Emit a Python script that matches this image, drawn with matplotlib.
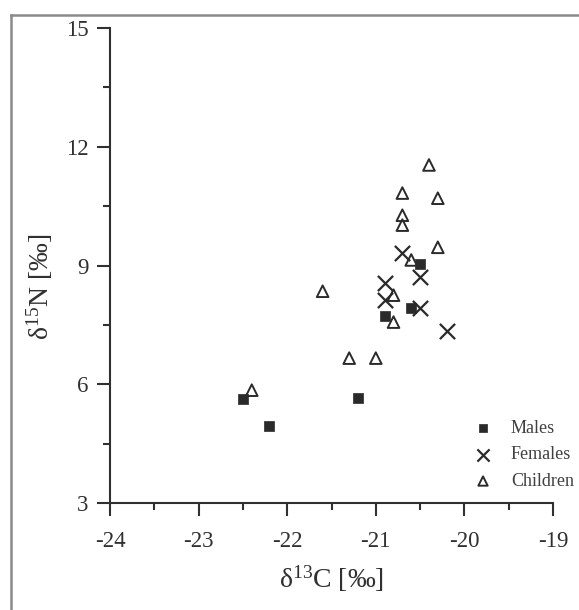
import matplotlib
matplotlib.use("Agg")
import matplotlib.pyplot as plt
from matplotlib.ticker import MultipleLocator
from matplotlib.lines import Line2D

plt.rcParams['font.family'] = ['Liberation Serif', 'DejaVu Serif']
plt.rcParams['mathtext.fontset'] = 'custom'
plt.rcParams['mathtext.rm'] = 'Liberation Serif'
plt.rcParams['mathtext.it'] = 'Liberation Serif:italic'

males_c = [-22.5, -22.2, -21.2, -20.9, -20.6, -20.5]
males_n = [5.63, 4.94, 5.65, 7.72, 7.92, 9.04]

females_c = [-20.7, -20.5, -20.9, -20.9, -20.5, -20.2]
females_n = [9.31, 8.71, 8.56, 8.13, 7.92, 7.34]

children_c = [-20.4, -20.7, -20.3, -20.7, -20.7, -20.3, -20.6, -20.8, -20.8,
              -21.6, -21.3, -21.0, -22.4]
children_n = [11.54, 10.83, 10.70, 10.27, 10.02, 9.46, 9.14, 8.25, 7.57,
              8.35, 6.66, 6.66, 5.85]

group_labels = ['Males', 'Females', 'Children']
xticks = [-24, -23, -22, -21, -20, -19]
yticks = [3, 6, 9, 12, 15]

ink = '#303030'

fig = plt.figure(figsize=(5.79, 6.10), dpi=100)
fig.patch.set_facecolor('white')

# outer frame (left and top edges visible)
fig.add_artist(Line2D([11/579, 11/579], [-0.1, 1 - 15/610], transform=fig.transFigure,
                      color='#8a8a8a', lw=1.8))
fig.add_artist(Line2D([11/579, 1.1], [1 - 15/610, 1 - 15/610], transform=fig.transFigure,
                      color='#8a8a8a', lw=1.8))

ax = fig.add_axes([110/579, 1 - 503/610, (553 - 110)/579, (503 - 28)/610])
ax.set_facecolor('white')

ax.scatter(males_c, males_n, marker='s', s=55, color='#2a2a2a', edgecolors='#2a2a2a',
           linewidths=0.5, label=group_labels[0], zorder=3)
ax.scatter(females_c, females_n, marker='x', s=120, color='#2a2a2a', linewidths=1.6,
           label=group_labels[1], zorder=3)
ax.scatter(children_c, children_n, marker='^', s=70, facecolors='none',
           edgecolors='#2a2a2a', linewidths=1.4, label=group_labels[2], zorder=3)

ax.set_xlim(-24, -19)
ax.set_ylim(3, 15)
ax.set_xticks(xticks)
ax.set_yticks(yticks)
ax.set_xticklabels([str(t) for t in xticks])
ax.set_yticklabels([str(t) for t in yticks])
ax.xaxis.set_minor_locator(MultipleLocator(0.5))
ax.yaxis.set_minor_locator(MultipleLocator(1.5))

for s in ['top', 'right']:
    ax.spines[s].set_visible(False)
for s in ['left', 'bottom']:
    ax.spines[s].set_color(ink)
    ax.spines[s].set_linewidth(1.5)

ax.tick_params(which='major', direction='out', length=9.5, width=1.5, color=ink,
               labelsize=16.5, labelcolor=ink)
ax.tick_params(axis='x', which='major', pad=11)
ax.tick_params(axis='y', which='major', pad=6)
ax.tick_params(which='minor', direction='out', length=5, width=1.5, color=ink)

ax.set_xlabel(r'$\mathrm{δ}^{13}$C [‰]', fontsize=20, color=ink, labelpad=8)
ax.set_ylabel(r'$\mathrm{δ}^{15}$N [‰]', fontsize=20, color=ink, labelpad=8)
ax.yaxis.label.set_y(0.455)

leg = fig.legend(*ax.get_legend_handles_labels(), loc='upper left',
                 bbox_to_anchor=(474/579, 1 - 420/610), bbox_transform=fig.transFigure,
                 frameon=False, fontsize=13, handletextpad=1.05, labelspacing=0.52,
                 handlelength=1.0, borderpad=0, borderaxespad=0,
                 markerscale=0.8, labelcolor='#404040')

fig.savefig('out.png', dpi=100, facecolor='white')
